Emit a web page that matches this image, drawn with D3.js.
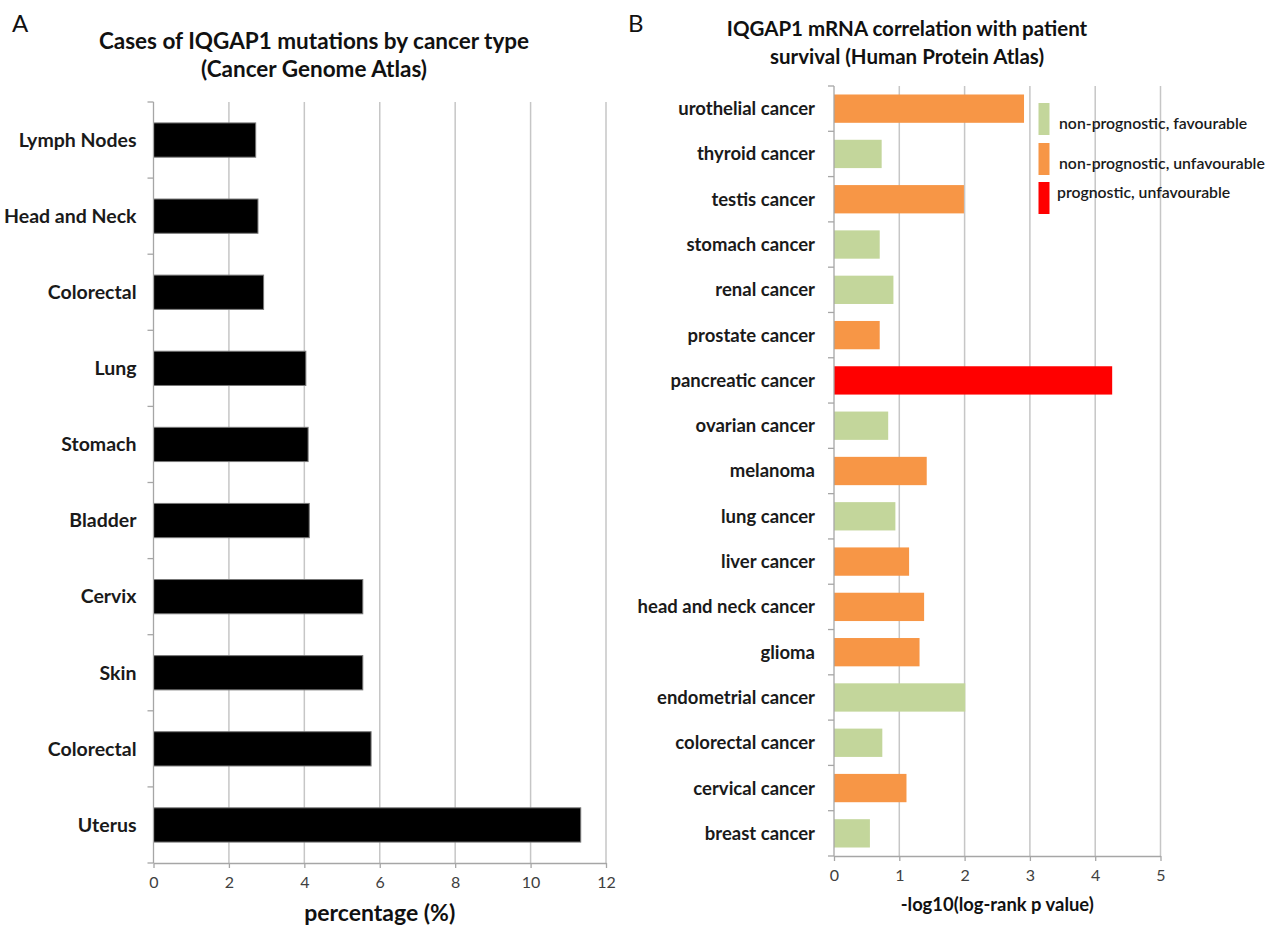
<!DOCTYPE html>
<html>
<head>
<meta charset="utf-8">
<script src="https://cdn.jsdelivr.net/npm/d3@7"></script>
<style>
  body { margin: 0; background: #fff; }
  svg text { font-family: Lato, "Open Sans", sans-serif; }
</style>
</head>
<body>
<svg id="fig" width="1275" height="928"></svg>
<script>
// panel A: cases of IQGAP1 mutations (%)
const catsA = ['Lymph Nodes', 'Head and Neck', 'Colorectal', 'Lung', 'Stomach',
  'Bladder', 'Cervix', 'Skin', 'Colorectal', 'Uterus'];
const valuesA = [2.71, 2.77, 2.92, 4.04, 4.10, 4.13, 5.55, 5.55, 5.77, 11.33];
const ticksA = [0, 2, 4, 6, 8, 10, 12];

// panel B: -log10(log-rank p)
const catsB = ['urothelial cancer', 'thyroid cancer', 'testis cancer', 'stomach cancer',
  'renal cancer', 'prostate cancer', 'pancreatic cancer', 'ovarian cancer', 'melanoma',
  'lung cancer', 'liver cancer', 'head and neck cancer', 'glioma', 'endometrial cancer',
  'colorectal cancer', 'cervical cancer', 'breast cancer'];
const valuesB = [2.91, 0.73, 1.99, 0.70, 0.91, 0.70, 4.26, 0.83, 1.42, 0.94, 1.15,
  1.38, 1.31, 2.01, 0.74, 1.11, 0.55];
const groupsB = [1, 0, 1, 0, 0, 1, 2, 0, 1, 0, 1, 1, 1, 0, 0, 1, 0];
const ticksB = [0, 1, 2, 3, 4, 5];
const legendB = ['non-prognostic,  favourable', 'non-prognostic,  unfavourable', 'prognostic, unfavourable'];
const colorsB = ['#c3d69b', '#f79646', '#ff0000'];

const svg = d3.select('#fig');
const gridCol = '#c6c6c6', axisCol = '#a6a6a6';

function panel(opts) {
  const g = svg.append('g');
  const x = d3.scaleLinear().domain(opts.domain).range(opts.xr);
  const y = d3.scaleBand().domain(d3.range(opts.cats.length)).range(opts.yr)
    .paddingInner(opts.pad).paddingOuter(opts.pad / 2);
  const [y0, y1] = opts.yr;

  // vertical gridlines
  g.selectAll('.grid').data(opts.ticks.slice(1)).enter().append('line')
    .attr('x1', d => x(d)).attr('x2', d => x(d))
    .attr('y1', y0).attr('y2', y1)
    .attr('stroke', gridCol).attr('stroke-width', 1.5);

  // bars
  g.selectAll('.bar').data(opts.values).enter().append('rect')
    .attr('x', x(0)).attr('y', (d, i) => y(i))
    .attr('width', d => x(d) - x(0)).attr('height', y.bandwidth())
    .attr('fill', (d, i) => opts.color(i))
    .attr('stroke', opts.edge).attr('stroke-width', 1);

  // left axis line + boundary ticks
  g.append('line').attr('x1', x(0)).attr('x2', x(0)).attr('y1', y0).attr('y2', y1)
    .attr('stroke', axisCol).attr('stroke-width', 1.3);
  const bounds = d3.range(opts.cats.length + 1).map(i => y0 + i * y.step());
  g.selectAll('.ytick').data(bounds).enter().append('line')
    .attr('x1', x(0) - 6).attr('x2', x(0)).attr('y1', d => d).attr('y2', d => d)
    .attr('stroke', axisCol).attr('stroke-width', 1.3);

  // category labels
  g.selectAll('.lab').data(opts.cats).enter().append('text')
    .attr('x', x(0) - opts.labGap).attr('y', (d, i) => y(i) + y.bandwidth() / 2)
    .attr('dy', '0.35em').attr('text-anchor', 'end')
    .attr('font-size', opts.labSize).attr('font-weight', 700).attr('fill', '#1a1a1a')
    .text(d => d);

  // bottom axis
  const ax = g.append('g').attr('transform', `translate(0,${y1})`)
    .call(d3.axisBottom(x).tickValues(opts.ticks).tickFormat(d3.format('d'))
      .tickSize(5).tickSizeOuter(0).tickPadding(9));
  ax.select('.domain').attr('stroke', axisCol).attr('stroke-width', 1.3);
  ax.selectAll('.tick line').attr('stroke', axisCol).attr('stroke-width', 1.3);
  ax.selectAll('.tick text').attr('font-size', 16).attr('fill', '#404040')
    .attr('font-family', 'Lato, sans-serif');

  g.append('text').attr('x', (opts.xr[0] + opts.xr[1]) / 2).attr('y', opts.xTitleY)
    .attr('text-anchor', 'middle').attr('font-size', opts.xTitleSize)
    .attr('font-weight', 700).attr('fill', '#111').text(opts.xTitle);

  opts.title.forEach((t, i) => {
    g.append('text').attr('x', opts.titleX).attr('y', opts.titleY + i * 28)
      .attr('text-anchor', 'middle').attr('font-size', opts.titleSize).attr('font-weight', 700)
      .attr('fill', '#111').text(t);
  });
  return {x, y};
}

panel({
  cats: catsA, values: valuesA, ticks: ticksA, domain: [0, 12],
  xr: [153.5, 606], yr: [102, 863], pad: 0.55,
  color: () => '#000', edge: '#777',
  labGap: 17, labSize: 19.5,
  xTitle: 'percentage (%)', xTitleY: 921, xTitleSize: 23,
  title: ['Cases of IQGAP1 mutations by cancer type', '(Cancer Genome Atlas)'],
  titleX: 314, titleY: 49, titleSize: 22.5
});

panel({
  cats: catsB, values: valuesB, ticks: ticksB, domain: [0, 5],
  xr: [834, 1160.5], yr: [86, 856], pad: 0.375,
  color: i => colorsB[groupsB[i]], edge: 'none',
  labGap: 19, labSize: 18.5,
  xTitle: '-log10(log-rank p value)', xTitleY: 911, xTitleSize: 18.4,
  title: ['IQGAP1 mRNA correlation with patient', 'survival (Human Protein Atlas)'],
  titleX: 907, titleY: 36, titleSize: 20.5
});

// legend for panel B
const legY = [103, 143, 182];
const leg = svg.append('g');
legendB.forEach((t, i) => {
  leg.append('rect').attr('x', 1038.5).attr('y', legY[i]).attr('width', 11).attr('height', 32)
    .attr('fill', colorsB[i]);
  leg.append('text').attr('x', i === 2 ? 1057 : 1059).attr('y', legY[i] + (i === 2 ? 10 : 20))
    .attr('dy', '0.35em').attr('font-size', 15.8).attr('fill', '#1a1a1a')
    .attr('font-weight', 600).text(t);
});

// panel letters
svg.append('text').attr('x', 12).attr('y', 32).attr('font-size', 24).attr('fill', '#111')
  .attr('font-family', 'Open Sans, sans-serif').text('A');
svg.append('text').attr('x', 628).attr('y', 32).attr('font-size', 24).attr('fill', '#111')
  .attr('font-family', 'Open Sans, sans-serif').text('B');
</script>
</body>
</html>
